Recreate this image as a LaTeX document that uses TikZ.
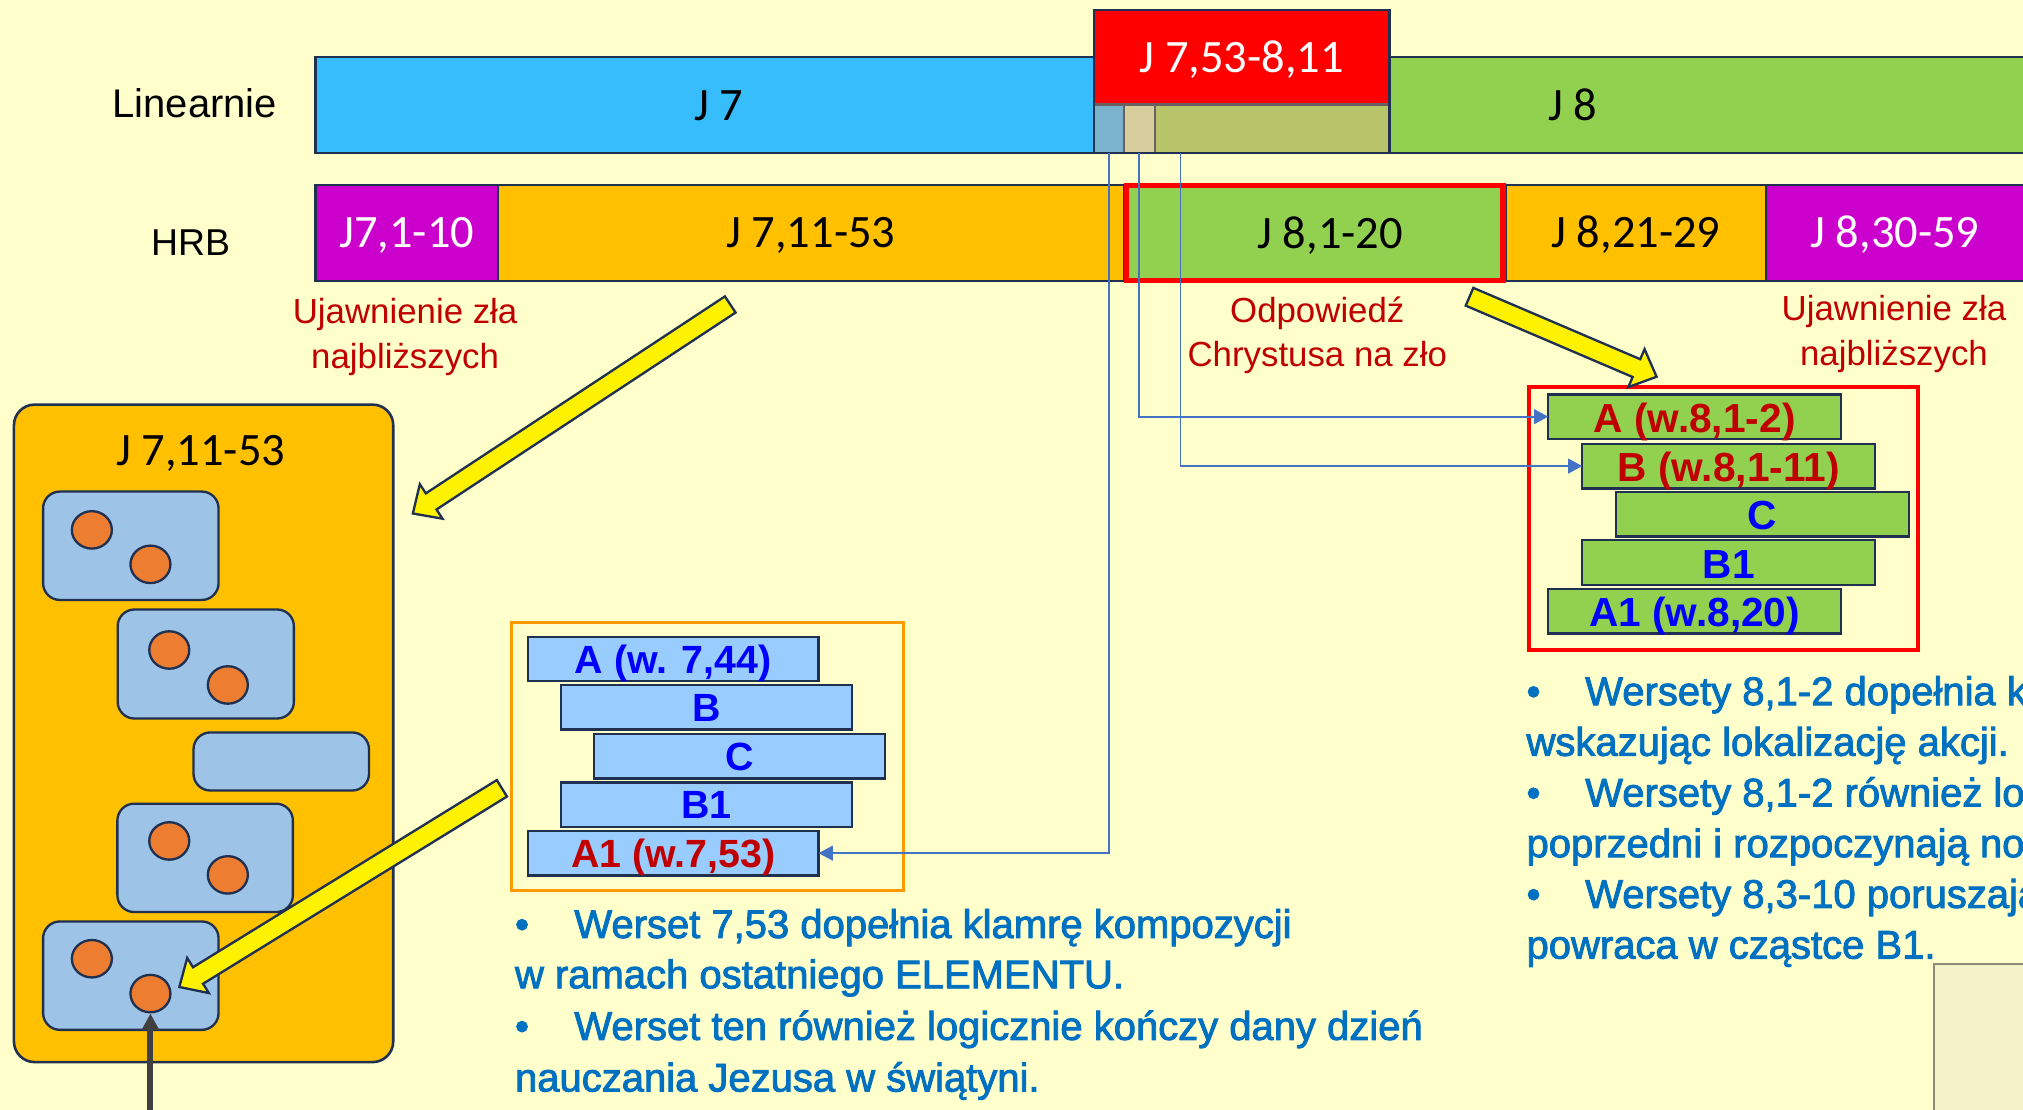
\documentclass[tikz,border=0pt]{standalone}
\usepackage{fontspec}
\setmainfont{Liberation Sans}
\newfontfamily\calibrifont{Carlito}
\newfontfamily\notefont[FakeBold=2.2]{Liberation Sans}
\usetikzlibrary{calc,shapes.geometric,arrows.meta}

\definecolor{bgc}{HTML}{FFFFCC}
\definecolor{jblue}{HTML}{38BDFC}
\definecolor{jred}{HTML}{FF0000}
\definecolor{segA}{HTML}{7BB3CF}
\definecolor{segB}{HTML}{D8CD9D}
\definecolor{segC}{HTML}{B8C46A}
\definecolor{segline}{HTML}{6A6060}
\definecolor{jgreen}{HTML}{92D050}
\definecolor{jmag}{HTML}{CC00CC}
\definecolor{jorange}{HTML}{FFC000}
\definecolor{navy}{HTML}{1F3050}
\definecolor{darkred}{HTML}{C00000}
\definecolor{txtblue}{HTML}{0000FF}
\definecolor{noteblue}{HTML}{0070C0}
\definecolor{boxblue}{HTML}{9DC3E6}
\definecolor{dotorange}{HTML}{ED7D31}
\definecolor{barblue}{HTML}{99CCFF}
\definecolor{frameorange}{HTML}{FF9900}
\definecolor{connblue}{HTML}{4472C4}
\definecolor{arrowgray}{HTML}{404040}
\definecolor{panelfill}{HTML}{F4F2C8}
\definecolor{panelgray}{HTML}{8C8C78}

\tikzset{
  bar/.style={draw=navy, line width=1.8pt, inner sep=0pt, outer sep=0pt,
    anchor=north west, font=\calibrifont\fontsize{36}{40}\selectfont,
    text height=23pt, text depth=0pt},
  rowlabel/.style={anchor=base west, inner sep=0pt, font=\fontsize{31}{36}\selectfont},
  redlabel/.style={anchor=base, inner sep=0pt, text=darkred, font=\fontsize{27}{32}\selectfont},
  mbar/.style={draw=navy, fill=barblue, line width=1.8pt, inner sep=0pt, outer sep=0pt,
    anchor=north west, minimum width=225.5pt, minimum height=34.5pt,
    font=\bfseries\fontsize{30.5}{34}\selectfont, text height=22pt, text depth=0pt},
  gbar/.style={draw=navy, fill=jgreen, line width=1.8pt, inner sep=0pt, outer sep=0pt,
    anchor=north west, minimum width=227pt, minimum height=34.5pt,
    font=\bfseries\fontsize{31.5}{34}\selectfont, text height=24pt, text depth=0pt},
  lbox/.style={draw=navy, fill=boxblue, line width=1.8pt, rounded corners=13pt,
    inner sep=0pt, outer sep=0pt, anchor=north west},
  dot/.style={ellipse, draw=navy, fill=dotorange, line width=1.8pt,
    minimum width=31pt, minimum height=29pt, inner sep=0pt},
  note/.style={anchor=base west, inner sep=0pt, text=noteblue,
    font=\notefont\fontsize{31}{36}\selectfont},
  conn/.style={draw=connblue, line width=1.3pt, -{Triangle[length=11pt,width=11.5pt]}},
  yellowblock/.style={draw=navy, fill=yellow, line width=1.8pt, line join=miter},
}

% block arrow from a tail coordinate to a tip coordinate
\newcommand\yellowarrow[2]{%
  \path coordinate (#2base) at ($(#2)!17pt!(#1)$);
  \draw[yellowblock]
    ($(#1)!7.5pt!90:(#2)$) --
    ($(#2base)!7.5pt!-90:(#1)$) --
    ($(#2base)!16pt!-90:(#1)$) --
    (#2) --
    ($(#2base)!16pt!90:(#1)$) --
    ($(#2base)!7.5pt!90:(#1)$) --
    ($(#1)!7.5pt!-90:(#2)$) -- cycle;
}

\begin{document}
\begin{tikzpicture}[x=1pt,y=-1pt]
\useasboundingbox (0,0) rectangle (1568,860);
\clip (0,0) rectangle (1568,860);
\fill[bgc] (0,0) rectangle (1568,860);

% ---- linear reading ----
\node[rowlabel] (linlbl) at (87,91) {Linearnie};
\node[bar, fill=jblue, minimum width=625.5pt, minimum height=74.4pt] (j7) at (244.5,44.4) {J 7};
\node[bar, fill=jgreen, minimum width=742pt, minimum height=74.4pt] (j8) at (848,44.4) {J 8};
\node[bar, fill=jred, text=white, minimum width=229pt, minimum height=73.25pt] (jmid) at (848,7.75) {J 7,53-8,11};
\node[bar, fill=segA, draw=segline, minimum width=23pt, minimum height=37.8pt] (seg1) at (848,81) {};
\node[bar, fill=segB, draw=segline, minimum width=24pt, minimum height=37.8pt] (seg2) at (871,81) {};
\node[bar, fill=segC, draw=segline, minimum width=182pt, minimum height=37.8pt] (seg3) at (895,81) {};
\draw[navy, line width=1.8pt] (jmid.north west) rectangle (seg3.south east);

% ---- HRB reading ----
\node[rowlabel, font=\fontsize{29}{34}\selectfont] (hrblbl) at (117,197.7) {HRB};
\node[bar, fill=jmag, text=white, minimum width=141.5pt, minimum height=74.4pt] (h1) at (244.5,143.4) {J7,1-10};
\node[bar, fill=jorange, minimum width=485pt, minimum height=74.4pt] (h2) at (386,143.4) {J 7,11-53};
\node[bar, fill=jorange, minimum width=202pt, minimum height=74.4pt] (h4) at (1167,143.4) {J 8,21-29};
\node[bar, fill=jmag, text=white, minimum width=199.5pt, minimum height=74.4pt] (h5) at (1369,143.4) {J 8,30-59};
\node[bar, fill=jgreen, draw=jred, line width=4pt, minimum width=292pt, minimum height=73.6pt] (h3) at (873,144) {\hspace*{24pt}J 8,1-20};

% ---- captions under the HRB row ----
\node[redlabel] (cap1a) at (314,251) {Ujawnienie zła};
\node[redlabel] (cap1b) at (314,285.5) {najbliższych};
\node[redlabel] (cap2a) at (1021,250) {Odpowiedź};
\node[redlabel] (cap2b) at (1021,284) {Chrystusa na zło};
\node[redlabel] (cap3a) at (1468,248.5) {Ujawnienie zła};
\node[redlabel] (cap3b) at (1468,283) {najbliższych};

% ---- J 7,11-53 panel ----
\node[lbox, fill=jorange, rounded corners=16pt, line width=2pt, minimum width=294pt, minimum height=509.6pt] (panel) at (10.8,313.6) {};
\node[anchor=base, inner sep=0pt, font=\calibrifont\fontsize{36}{40}\selectfont] (paneltitle) at (155.6,360.5) {J 7,11-53};
\node[lbox, minimum width=136pt, minimum height=84pt] (box1) at (33.4,381) {};
\node[lbox, minimum width=136.6pt, minimum height=84.5pt] (box2) at (91.2,472.4) {};
\node[lbox, minimum width=136pt, minimum height=45pt] (box3) at (150,567.7) {};
\node[lbox, minimum width=136pt, minimum height=84pt] (box4) at (91,622.9) {};
\node[lbox, minimum width=136pt, minimum height=84pt] (box5) at (33.4,714.2) {};
\node[dot] (d1) at (71.2,410.7) {};
\node[dot] (d2) at (116.6,437.4) {};
\node[dot] (d3) at (131.2,503.8) {};
\node[dot] (d4) at (176.6,530.9) {};
\node[dot] (d5) at (131.2,651.8) {};
\node[dot] (d6) at (176.6,678.1) {};
\node[dot] (d7) at (71.2,743.1) {};
\node[dot] (d8) at (116.6,770.1) {};
\coordinate (footB) at (116.6,875);
\draw[arrowgray, line width=4.6pt, -{Triangle[length=13pt,width=13pt]}] (footB) -- (d8.south);

% ---- chiastic structure of J 7,37-53 ----
\node[draw=frameorange, line width=2.5pt, inner sep=0pt, anchor=north west, minimum width=304pt, minimum height=207.5pt] (mframe) at (395,481.5) {};
\node[mbar, text=txtblue] (ma) at (409,493.5) {A (w. 7,44)};
\node[mbar, text=txtblue] (mb) at (435,531) {B};
\node[mbar, text=txtblue] (mc) at (460.5,569) {C};
\node[mbar, text=txtblue] (mb1) at (435,606.5) {B1};
\node[mbar, text=darkred] (ma1) at (409,644) {A1 (w.7,53)};

% ---- chiastic structure of J 8,1-20 ----
\node[draw=jred, line width=3pt, inner sep=0pt, anchor=north west, minimum width=301.5pt, minimum height=204pt] (rframe) at (1183.5,298.5) {};
\node[gbar, text=darkred] (ra) at (1200,305.7) {A (w.8,1-2)};
\node[gbar, text=darkred] (rb) at (1226.4,344) {B (w.8,1-11)};
\node[gbar, text=txtblue] (rc) at (1252.5,381.3) {C};
\node[gbar, text=txtblue] (rb1) at (1226.4,418.8) {B1};
\node[gbar, text=txtblue] (ra1) at (1200,456.5) {A1 (w.8,20)};

% ---- thin connectors from the linear row ----
\draw[conn] (seg1.south) |- (ma1.east);
\draw[conn] (seg2.south) |- (ra.west);
\draw[conn] ([xshift=20pt]seg3.south west) |- (rb.west);

% ---- yellow block arrows ----
\coordinate (ya1t) at (566,236);
\coordinate (ya1h) at (320,398);
\coordinate (ya2t) at (1139,230);
\coordinate (ya2h) at (1284,292);
\coordinate (ya3t) at (389,611);
\coordinate (ya3h) at (139,765);
\yellowarrow{ya1t}{ya1h}
\yellowarrow{ya2t}{ya2h}
\yellowarrow{ya3t}{ya3h}

% ---- notes ----
\node[note] (n1) at (399,727) {\makebox[46pt][l]{•}Werset 7,53 dopełnia klamrę kompozycji};
\node[note] (n2) at (399,766) {w ramach ostatniego ELEMENTU.};
\node[note] (n3) at (399,806) {\makebox[46pt][l]{•}Werset ten również logicznie kończy dany dzień};
\node[note] (n4) at (399,846) {nauczania Jezusa w świątyni.};

\node[note] (r1) at (1183,546.5) {\makebox[45.5pt][l]{•}Wersety 8,1-2 dopełnia k};
\node[note] (r2) at (1183,585.8) {wskazując lokalizację akcji.};
\node[note] (r3) at (1183,625.1) {\makebox[45.5pt][l]{•}Wersety 8,1-2 również lo};
\node[note] (r4) at (1183,664.4) {poprzedni i rozpoczynają now};
\node[note] (r5) at (1183,703.7) {\makebox[45.5pt][l]{•}Wersety 8,3-10 poruszają};
\node[note] (r6) at (1183,743) {powraca w cząstce B1.};

% ---- corner panel ----
\node[draw=panelgray, fill=panelfill, line width=1.5pt, inner sep=0pt, anchor=north west, minimum width=120pt, minimum height=160pt] (cornerpanel) at (1498.5,746.5) {};
\end{tikzpicture}
\end{document}
